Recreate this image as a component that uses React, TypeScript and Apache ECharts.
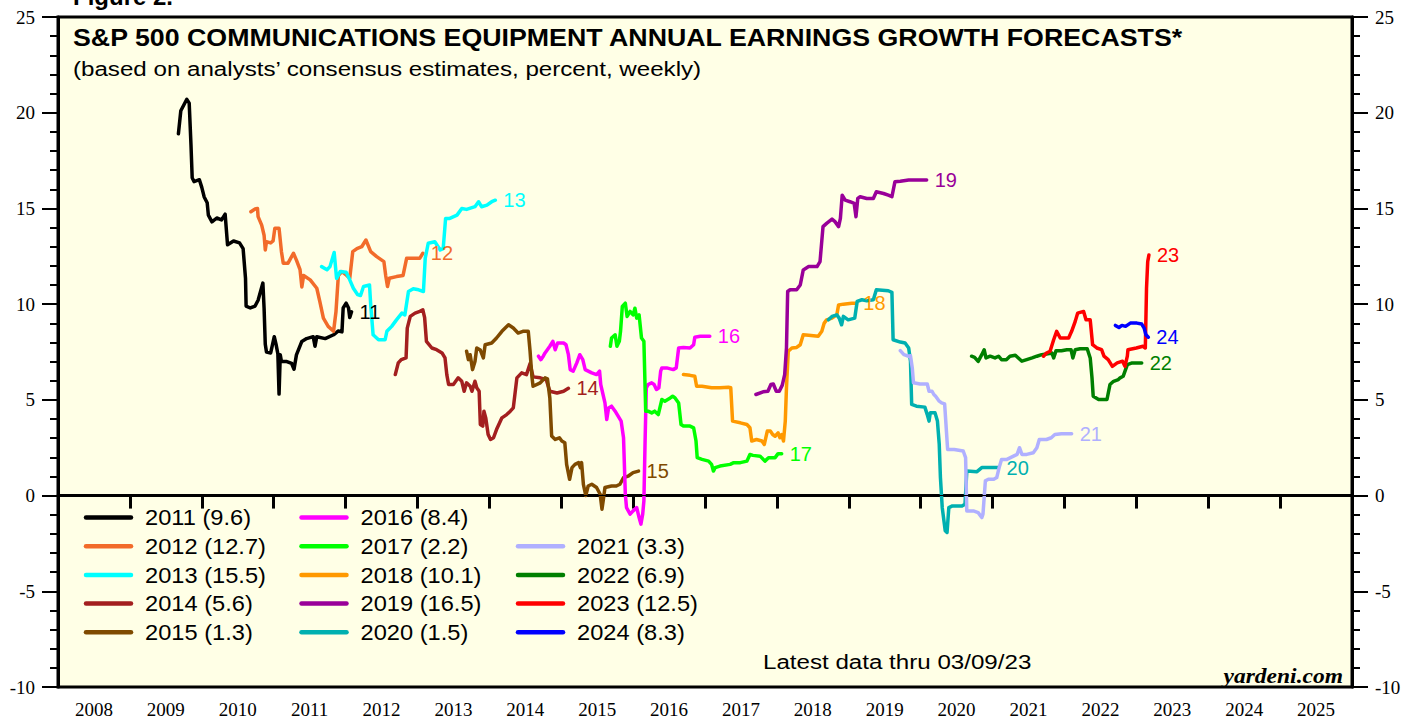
import React, { useEffect, useRef } from "react";
import * as echarts from "echarts";

// x values are months since January 2008, y values are percent
const years = ["2008","2009","2010","2011","2012","2013","2014","2015","2016","2017","2018","2019","2020","2021","2022","2023","2024","2025"];

const seriesNames = ["2011 (9.6)","2012 (12.7)","2013 (15.5)","2014 (5.6)","2015 (1.3)","2016 (8.4)","2017 (2.2)","2018 (10.1)","2019 (16.5)","2020 (1.5)","2021 (3.3)","2022 (6.9)","2023 (12.5)","2024 (8.3)"];
const endLabels = ["11","12","13","14","15","16","17","18","19","20","21","22","23","24"];
const colors = ["#000000","#F26B2A","#00FFFF","#A31F1F","#7F4A00","#FF00FF","#00FF00","#FF9900","#990099","#00B0B0","#B0B0FF","#007F00","#FF0000","#0000FF"];

const s2011 = [[20.1,18.9],[20.5,20.1],[21.5,20.7],[21.9,20.5],[22.2,18.3],[22.4,16.6],[22.7,16.4],[23.6,16.5],[24.0,16.1],[24.4,15.6],[24.9,15.3],[25.1,14.65],[25.7,14.3],[26.5,14.5],[27.3,14.4],[27.9,14.7],[28.3,13.1],[29.3,13.3],[30.3,13.2],[30.9,12.9],[31.3,11.35],[31.4,9.9],[32.1,9.8],[32.9,9.9],[33.4,10.2],[34.2,11.1],[34.4,9.8],[34.6,7.9],[34.8,7.5],[35.5,7.45],[36.1,8.3],[36.4,7.9],[36.7,7.4],[36.9,5.3],[37.1,7.35],[37.3,7.0],[38.2,7.0],[39.0,6.9],[39.4,6.6],[39.8,7.35],[40.7,8.05],[41.5,8.2],[42.6,8.3],[42.9,7.8],[43.2,8.3],[44.6,8.2],[46.0,8.4],[46.8,8.6],[47.4,8.55],[47.6,9.8],[48.1,10.05],[48.5,9.8],[48.7,9.3],[49.0,9.6]];
const s2012 = [[32.2,14.83],[32.9,14.97],[33.3,15.0],[33.4,14.57],[34.0,14.13],[34.4,13.6],[34.6,12.83],[34.8,13.26],[35.5,13.2],[35.9,13.3],[36.2,13.96],[36.9,13.96],[37.3,12.74],[37.6,12.14],[38.4,12.14],[39.3,12.66],[39.8,12.3],[40.4,11.8],[40.7,10.9],[41.0,11.5],[42.1,11.27],[43.2,10.83],[43.7,10.14],[44.3,9.27],[45.1,8.84],[46.0,8.58],[46.4,9.6],[46.8,11.5],[47.4,11.7],[48.2,11.5],[48.7,11.35],[49.2,12.74],[49.9,12.9],[50.7,13.0],[51.4,13.35],[52.2,12.74],[53.2,12.48],[54.4,12.22],[54.7,11.5],[55.0,10.92],[55.3,11.35],[56.5,11.44],[57.6,11.5],[58.2,12.4],[59.3,12.4],[60.4,12.4],[60.9,12.66]];
const s2013 = [[44.0,11.96],[44.9,11.8],[45.4,11.96],[46.1,12.7],[46.5,11.35],[47.1,11.7],[48.1,11.67],[48.7,11.27],[49.3,10.83],[50.0,10.5],[50.5,10.45],[51.0,10.92],[52.0,11.0],[52.2,9.96],[52.6,8.4],[53.5,8.14],[54.6,8.14],[54.9,8.58],[55.7,8.84],[56.5,9.18],[57.4,9.53],[57.9,9.44],[58.5,10.66],[59.3,10.8],[60.2,10.75],[61.0,10.66],[61.3,12.4],[61.8,13.18],[62.9,13.26],[63.8,12.83],[64.3,12.9],[64.7,14.48],[65.4,14.48],[66.6,14.65],[67.4,15.0],[68.2,14.95],[69.6,15.09],[70.2,15.35],[70.7,15.09],[71.6,15.17],[72.4,15.35],[73.0,15.43]];
const s2014 = [[56.3,6.32],[56.8,6.93],[57.3,7.1],[58.1,7.19],[58.3,8.75],[58.8,9.36],[59.6,9.53],[60.4,9.62],[60.9,9.7],[61.2,9.3],[61.5,8.06],[62.4,7.71],[63.2,7.62],[64.1,7.45],[64.6,7.19],[64.9,6.32],[65.2,5.8],[66.0,5.8],[66.8,6.15],[67.4,5.97],[67.8,5.45],[68.2,5.89],[68.8,5.71],[69.1,5.45],[69.6,5.97],[69.9,5.63],[70.3,5.45],[70.5,3.71],[70.9,3.63],[71.1,4.41],[71.4,4.06],[71.8,3.19],[72.2,2.93],[72.7,3.02],[73.2,3.45],[74.1,4.06],[74.9,4.23],[75.5,4.41],[76.0,4.58],[76.6,6.15],[77.4,6.41],[78.2,6.32],[78.8,6.9],[79.3,6.2],[80.5,6.15],[81.5,6.05],[82.1,5.45],[83.3,5.36],[84.4,5.45],[85.2,5.6]];
const s2015 = [[68.2,7.54],[68.5,7.1],[68.8,7.36],[69.2,6.58],[69.6,7.0],[69.9,7.71],[70.5,7.6],[71.0,7.19],[71.3,7.88],[72.4,7.97],[73.2,8.23],[74.1,8.58],[75.2,8.92],[76.0,8.75],[76.8,8.49],[77.6,8.58],[78.5,8.58],[78.8,7.54],[79.1,6.23],[79.3,5.71],[80.5,5.89],[81.3,6.15],[81.7,6.1],[82.1,5.1],[82.4,3.11],[83.0,2.93],[83.7,3.02],[84.1,2.85],[84.6,2.76],[84.9,1.63],[85.4,0.85],[85.8,1.46],[86.3,1.63],[86.9,1.72],[87.2,1.46],[87.4,1.72],[87.7,0.59],[88.1,0.0],[88.5,0.5],[89.1,0.59],[89.9,0.42],[90.5,0.07],[90.8,-0.71],[91.0,-0.28],[91.3,0.42],[92.4,0.5],[93.2,0.5],[93.8,0.59],[94.4,0.94],[95.2,1.02],[96.0,1.2],[96.9,1.28]];
const s2016 = [[80.2,7.28],[80.6,7.1],[81.0,7.28],[81.3,7.45],[82.1,7.8],[82.6,8.06],[83.0,7.62],[83.4,7.97],[84.4,7.97],[84.8,7.88],[85.2,7.36],[85.5,6.58],[86.0,6.5],[86.6,6.93],[87.1,7.36],[87.6,7.1],[88.0,6.58],[89.1,6.41],[89.9,6.32],[90.4,6.5],[90.6,5.8],[91.3,4.84],[91.6,3.97],[91.9,4.58],[92.4,4.67],[93.0,4.41],[93.5,4.15],[94.0,3.89],[94.4,3.02],[94.7,0.07],[94.9,-0.63],[95.5,-0.97],[96.0,-0.8],[96.6,-0.63],[97.0,-1.15],[97.3,-1.49],[97.6,-0.97],[97.8,-0.28],[98.0,2.85],[98.2,5.63],[98.5,5.8],[99.1,5.89],[99.5,5.8],[99.9,5.54],[100.3,5.63],[100.6,6.5],[100.8,6.67],[101.6,6.67],[102.7,6.58],[103.2,6.67],[103.6,7.71],[104.4,7.74],[105.5,7.71],[106.1,7.88],[106.3,8.27],[107.2,8.32],[108.8,8.32]];
const s2017 = [[92.2,7.8],[92.4,8.23],[93.0,8.4],[93.3,7.8],[93.7,8.06],[93.9,8.58],[94.2,9.88],[94.7,10.05],[95.0,9.36],[95.5,9.62],[96.0,9.44],[96.3,9.79],[96.6,9.27],[97.0,9.44],[97.4,8.23],[97.8,8.06],[98.1,4.41],[98.5,4.41],[99.1,4.32],[99.6,4.41],[100.2,4.23],[100.8,5.02],[101.3,4.93],[102.2,5.1],[102.6,5.19],[103.0,5.1],[103.6,4.84],[104.0,3.71],[104.4,3.63],[105.5,3.63],[106.1,3.54],[106.5,2.85],[106.7,1.98],[107.5,1.89],[108.6,1.8],[109.1,1.63],[109.4,1.28],[109.7,1.46],[110.5,1.54],[112.2,1.63],[112.8,1.72],[113.9,1.72],[115.0,1.8],[115.5,2.15],[116.0,2.1],[117.2,2.06],[118.0,1.8],[118.6,1.98],[119.7,1.98],[120.2,2.19],[120.8,2.19]];
const s2018 = [[104.4,6.32],[105.5,6.28],[106.3,6.23],[106.6,5.71],[107.5,5.71],[109.1,5.63],[110.5,5.63],[111.9,5.66],[112.3,5.63],[112.6,3.89],[113.9,3.8],[115.0,3.71],[115.5,3.54],[115.8,2.85],[116.6,2.93],[117.5,2.85],[117.9,2.67],[118.4,3.37],[118.9,3.37],[119.3,3.19],[119.7,3.1],[120.2,3.28],[120.5,3.02],[120.8,3.19],[121.1,2.85],[121.4,3.89],[121.6,5.63],[121.9,7.54],[122.5,7.71],[123.3,7.74],[123.9,7.88],[124.4,8.4],[125.3,8.37],[126.9,8.32],[127.5,8.58],[127.9,9.01],[128.3,9.18],[129.2,9.27],[130.0,9.44],[130.3,9.96],[131.1,10.0],[132.5,10.05],[133.1,10.05]];
const s2019 = [[116.5,5.28],[117.7,5.42],[118.5,5.45],[119.0,5.8],[119.4,5.83],[119.9,5.45],[120.4,5.45],[120.9,5.77],[121.3,6.32],[121.6,7.71],[121.8,10.66],[122.2,10.75],[123.3,10.75],[123.9,11.0],[124.4,11.79],[125.3,11.96],[126.7,11.96],[127.2,12.22],[127.7,14.05],[128.3,14.22],[129.2,14.44],[129.7,14.31],[130.3,14.05],[130.6,14.48],[130.9,15.69],[131.4,15.43],[132.2,15.35],[132.9,15.26],[133.2,14.57],[133.5,15.52],[133.9,15.61],[135.0,15.52],[136.1,15.52],[136.6,15.87],[137.8,15.78],[138.6,15.69],[139.2,15.61],[139.7,16.39],[140.6,16.42],[142.0,16.48],[145.0,16.48]];
const s2020 = [[128.6,9.18],[129.2,9.36],[130.0,9.44],[130.4,9.27],[130.8,8.92],[131.1,9.36],[131.9,9.18],[133.0,9.27],[133.4,10.14],[134.2,10.23],[135.0,10.18],[136.1,10.23],[136.6,10.75],[138.6,10.7],[139.2,10.62],[139.4,8.14],[140.6,8.02],[141.4,7.97],[142.0,7.71],[142.3,7.02],[142.5,4.76],[143.3,4.67],[144.7,4.62],[145.1,4.23],[145.4,3.89],[145.6,4.32],[146.4,4.32],[146.8,3.89],[147.1,2.67],[147.3,0.94],[147.6,-0.63],[148.1,-1.84],[148.4,-1.93],[148.7,-0.63],[149.3,-0.54],[150.9,-0.54],[151.4,-0.45],[151.7,1.28],[153.4,1.25],[154.2,1.46],[155.6,1.46],[157.0,1.46]];
const s2021 = [[140.6,7.57],[141.2,7.36],[142.0,7.28],[142.3,7.3],[142.6,6.67],[142.8,5.89],[143.9,5.83],[145.1,5.83],[145.4,5.45],[145.9,5.45],[146.2,5.28],[146.5,5.19],[147.1,4.93],[147.5,4.84],[148.0,4.79],[148.5,2.41],[149.6,2.41],[151.1,2.33],[151.5,1.98],[151.7,-0.8],[152.8,-0.8],[153.6,-0.89],[154.2,-1.15],[154.4,-0.97],[154.8,0.77],[155.3,0.85],[156.2,0.85],[156.7,0.94],[157.1,1.46],[157.5,1.89],[158.4,1.89],[159.5,2.06],[160.1,2.15],[160.5,2.5],[160.9,2.15],[161.7,2.15],[162.8,2.24],[163.4,2.5],[163.8,2.93],[165.0,2.93],[165.8,3.02],[166.4,3.19],[167.5,3.23],[169.2,3.23]];
const s2022 = [[152.5,7.28],[153.0,7.22],[153.6,7.01],[154.2,7.36],[154.6,7.62],[154.9,7.19],[155.6,7.28],[156.4,7.19],[157.0,7.28],[157.5,7.1],[158.3,7.1],[158.9,7.28],[159.8,7.33],[160.3,7.19],[160.9,7.02],[161.7,7.1],[162.6,7.19],[163.4,7.28],[164.2,7.36],[165.0,7.4],[165.9,7.45],[166.2,7.19],[166.6,7.57],[167.5,7.57],[168.4,7.62],[169.1,7.62],[169.4,7.19],[169.8,7.62],[170.6,7.67],[171.8,7.67],[172.3,7.19],[172.6,6.15],[172.8,5.19],[173.7,5.02],[175.1,5.02],[175.6,5.8],[176.2,5.97],[177.0,6.06],[177.3,6.15],[177.8,6.23],[178.2,6.58],[178.5,6.84],[179.3,6.93],[180.9,6.93]];
const s2023 = [[164.5,7.28],[165.0,7.45],[165.6,7.54],[166.2,8.14],[166.7,8.58],[167.3,8.23],[168.7,8.23],[169.2,8.58],[169.8,9.1],[170.2,9.53],[171.2,9.62],[171.6,9.18],[172.3,9.18],[172.7,7.88],[173.4,7.71],[174.2,7.62],[174.6,7.28],[175.3,7.1],[176.0,6.75],[176.8,6.93],[177.7,7.02],[178.1,6.75],[178.5,7.28],[178.6,7.62],[180.0,7.71],[181.1,7.8],[181.5,7.71],[181.7,10.83],[181.9,12.22],[182.1,12.57]];
const s2024 = [[176.5,8.89],[177.1,8.78],[177.6,8.89],[178.2,8.84],[179.0,9.01],[180.1,9.01],[180.9,8.96],[181.3,8.75],[181.6,8.4],[182.0,8.27]];

const seriesData = [s2011, s2012, s2013, s2014, s2015, s2016, s2017, s2018, s2019, s2020, s2021, s2022, s2023, s2024];

const SANS = "'Liberation Sans', Arial, Helvetica, sans-serif";
const SERIF = "'Liberation Serif', 'Times New Roman', Times, serif";

function buildOption() {
  const series: any[] = seriesData.map((d, i) => ({
    type: "line",
    name: seriesNames[i],
    data: d,
    xAxisIndex: 0,
    yAxisIndex: 0,
    showSymbol: false,
    symbol: "none",
    lineStyle: { color: colors[i], width: 3.5, cap: "round", join: "round" },
    itemStyle: { color: colors[i] },
    endLabel: {
      show: true,
      formatter: endLabels[i],
      color: colors[i],
      fontSize: 20,
      fontFamily: SANS,
      distance: 8,
    },
    emphasis: { disabled: true },
  }));
  series[0].markLine = {
    silent: true,
    symbol: ["none", "none"],
    label: { show: false },
    lineStyle: { color: "#000", width: 1, type: "solid" },
    data: [{ yAxis: 0 }],
  };

  const legendEls: any[] = [];
  seriesNames.forEach((name, i) => {
    let col: number, row: number;
    if (i < 5) { col = 0; row = i; }
    else if (i < 10) { col = 1; row = i - 5; }
    else { col = 2; row = i - 10 + 1; }
    const lx = [86, 301.5, 518][col];
    const y = 517.5 + row * 28.7;
    legendEls.push({
      type: "line",
      shape: { x1: lx, y1: y, x2: lx + 45, y2: y },
      style: { stroke: colors[i], lineWidth: 4.5, lineCap: "round" },
    });
    legendEls.push({
      type: "text",
      x: lx + 59,
      y: y,
      scaleX: 1.075,
      style: { text: name, fill: "#000", fontSize: 22, fontFamily: SANS, verticalAlign: "middle", align: "left" },
    });
  });

  const yAxisBase = {
    type: "value",
    min: -10,
    max: 25,
    interval: 5,
    axisLine: { show: true, lineStyle: { color: "#000", width: 3 } },
    axisTick: { show: true, length: 16, lineStyle: { color: "#000", width: 2 } },
    minorTick: { show: true, splitNumber: 5, length: 8, lineStyle: { color: "#000", width: 2 } },
    axisLabel: { fontSize: 19, fontFamily: SERIF, color: "#000", margin: 23 },
    splitLine: { show: false },
    minorSplitLine: { show: false },
  };

  return {
    animation: false,
    grid: {
      left: 58, right: 67, top: 17, bottom: 28,
      show: true, backgroundColor: "#FFFFE6", borderColor: "#000", borderWidth: 3,
    },
    xAxis: [
      {
        type: "value", min: 0, max: 216, interval: 12, position: "bottom",
        axisLine: { show: true, lineStyle: { color: "#000", width: 3 } },
        axisTick: { show: true, length: 13, lineStyle: { color: "#000", width: 3 } },
        axisLabel: { show: false },
        splitLine: { show: false },
      },
      {
        type: "category", data: years, position: "bottom", boundaryGap: true,
        axisLine: { show: false }, axisTick: { show: false },
        axisLabel: { fontSize: 19, fontFamily: SERIF, color: "#000", margin: 13 },
        splitLine: { show: false },
      },
    ],
    yAxis: [
      { ...yAxisBase, position: "left" },
      { ...yAxisBase, position: "right" },
    ],
    series,
    graphic: [
      {
        type: "text", x: 73, y: 8,
        style: { text: "Figure 2.", fill: "#000", fontSize: 24, fontWeight: "bold", fontFamily: SANS, verticalAlign: "bottom" },
      },
      {
        type: "text", x: 73, y: 38, scaleX: 1.115,
        style: { text: "S&P 500 COMMUNICATIONS EQUIPMENT ANNUAL EARNINGS GROWTH FORECASTS*", fill: "#000", fontSize: 24, fontWeight: "bold", fontFamily: SANS, verticalAlign: "middle" },
      },
      {
        type: "text", x: 73, y: 69, scaleX: 1.15,
        style: { text: "(based on analysts\u2019 consensus estimates, percent, weekly)", fill: "#000", fontSize: 21, fontFamily: SANS, verticalAlign: "middle" },
      },
      {
        type: "text", x: 763, y: 662, scaleX: 1.15,
        style: { text: "Latest data thru 03/09/23", fill: "#000", fontSize: 21, fontFamily: SANS, verticalAlign: "middle" },
      },
      {
        type: "text", x: 1343, y: 676, scaleX: 1.12,
        style: { text: "yardeni.com", fill: "#000", fontSize: 21, fontWeight: "bold", fontStyle: "italic", fontFamily: SERIF, verticalAlign: "middle", align: "right" },
      },
      ...legendEls,
    ],
  };
}

export default function App() {
  const ref = useRef<HTMLDivElement>(null);
  useEffect(() => {
    if (!ref.current) return;
    const chart = echarts.init(ref.current, null, { renderer: "svg" });
    chart.setOption(buildOption() as any);
    return () => chart.dispose();
  }, []);
  return (
    <div
      ref={ref}
      style={{ position: "absolute", left: 0, top: 0, width: 1419, height: 719, background: "#fff" }}
    />
  );
}
